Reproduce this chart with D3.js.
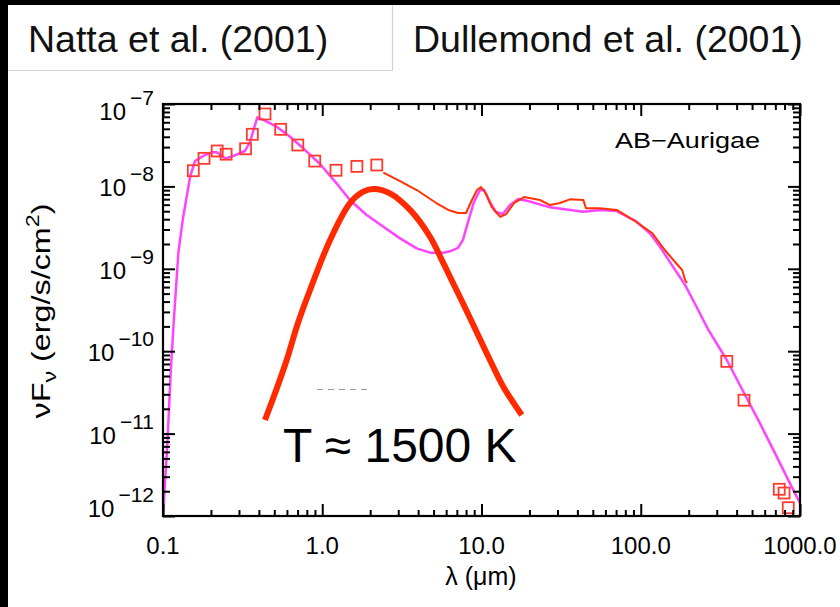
<!DOCTYPE html>
<html><head><meta charset="utf-8">
<script src="https://cdn.jsdelivr.net/npm/d3@7"></script>
<style>html,body{margin:0;padding:0;background:#000;} svg{display:block}</style>
</head><body>
<svg id="c" width="840" height="607"></svg>
<script>
// ---------- data ----------
const sources = ["Natta et al. (2001)", "Dullemond et al. (2001)"];
const objectName = "AB\u2212Aurigae";
const xTickValues = [0.1, 1, 10, 100, 1000];
const xTickLabels = ["0.1", "1.0", "10.0", "100.0", "1000.0"];
const yTickExponents = [-7, -8, -9, -10, -11, -12];
const xTitle = "\u03bb (\u03bcm)";
const bbLabel = "T \u2248 1500 K";

// photometry (open squares)
const photLambda = [0.155,0.181,0.219,0.249,0.330,0.364,0.437,0.548,0.702,0.897,1.22,1.65,2.20,347,445,741,794,844];
const photFlux   = [1.55e-8,2.19e-8,2.69e-8,2.46e-8,2.86e-8,4.29e-8,7.57e-8,4.93e-8,3.18e-8,2.03e-8,1.57e-8,1.75e-8,1.82e-8,7.53e-11,2.54e-11,2.11e-12,1.90e-12,1.26e-12];

// disk model (magenta)
const modelLambda = [0.100,0.106,0.112,0.117,0.125,0.134,0.148,0.159,0.179,0.202,0.217,0.245,0.270,0.327,0.352,0.391,0.426,0.518,0.627,0.760,0.968,1.23,1.49,1.90,2.42,3.08,3.92,4.75,5.76,6.34,7.12,7.65,8.23,8.97,9.79,10.4,11.1,12.3,13.6,15.1,17.0,19.6,26.9,43.6,55.5,70.6,94.3,114,132,157,190,226,266,347,452,561,714,865,1000];
const modelFlux   = [1.0e-12,6.32e-12,5.92e-11,2.39e-10,1.60e-9,4.29e-9,1.31e-8,2.03e-8,2.34e-8,2.59e-8,2.59e-8,2.19e-8,2.30e-8,2.69e-8,3.48e-8,6.90e-8,6.40e-8,5.31e-8,4.01e-8,2.90e-8,1.87e-8,1.09e-8,6.84e-9,4.50e-9,3.24e-9,2.34e-9,1.77e-9,1.57e-9,1.57e-9,1.63e-9,1.79e-9,2.24e-9,3.70e-9,6.47e-9,9.04e-9,9.04e-9,6.84e-9,4.89e-9,4.62e-9,5.94e-9,7.03e-9,6.65e-9,5.57e-9,4.93e-9,5.18e-9,5.02e-9,3.73e-9,2.70e-9,1.85e-9,1.11e-9,6.35e-10,3.34e-10,1.81e-10,7.82e-11,2.94e-11,1.33e-11,5.25e-12,2.49e-12,1.43e-12];

// observed spectrum (thin red)
const specLambda = [2.42,3.08,3.92,5.23,6.19,7.12,7.99,8.71,9.37,9.93,10.7,11.6,13.1,14.3,16.0,18.5,23.3,26.9,31.1,35.9,43.6,45.3,55.5,70.6,89.8,118,139,164,182,190,195];
const specFlux   = [1.47e-8,1.16e-8,9.04e-9,6.24e-9,5.18e-9,4.75e-9,4.75e-9,6.84e-9,9.04e-9,9.84e-9,8.09e-9,5.62e-9,4.26e-9,4.62e-9,6.28e-9,7.43e-9,6.84e-9,5.94e-9,6.28e-9,6.97e-9,6.84e-9,5.42e-9,5.42e-9,5.18e-9,3.91e-9,2.72e-9,1.77e-9,1.21e-9,9.66e-10,7.31e-10,6.73e-10];

// 1500 K blackbody (thick red)
const bbLambda = [0.437,0.505,0.598,0.704,0.838,1.12,1.49,1.81,2.11,2.66,3.56,4.75,5.76,6.34,8.47,11.3,13.7,17.9];
const bbFlux   = [1.46e-11,3.08e-11,7.82e-11,2.20e-10,5.53e-10,2.24e-9,6.24e-9,8.63e-9,9.29e-9,8.24e-9,5.18e-9,2.45e-9,1.17e-9,8.02e-10,2.53e-10,7.82e-11,3.71e-11,1.68e-11];

// ---------- drawing ----------
const svg = d3.select("#c");
const L = 163, R = 800, T = 104, B = 516;
const x = d3.scaleLog().domain([0.1, 1000]).range([L, R]);
const y = d3.scaleLog().domain([1e-12, 1e-7]).range([B, T]);
const FONT = "'Liberation Sans', Arial, Helvetica, sans-serif";

svg.append("rect").attr("width", 840).attr("height", 607).attr("fill", "#000");
svg.append("rect").attr("x", 8).attr("y", 5).attr("width", 832).attr("height", 602).attr("fill", "#fff");

// source tabs
svg.append("line").attr("x1", 392.5).attr("x2", 392.5).attr("y1", 5).attr("y2", 71).attr("stroke", "#d2d2d2").attr("stroke-width", 1.2);
svg.append("line").attr("x1", 8).attr("x2", 393).attr("y1", 70.5).attr("y2", 70.5).attr("stroke", "#d2d2d2").attr("stroke-width", 1.2);
svg.append("text").attr("x", 28).attr("y", 52).attr("font-family", FONT).attr("font-size", 37.5).attr("fill", "#111").text(sources[0]);
svg.append("text").attr("x", 413).attr("y", 52).attr("font-family", FONT).attr("font-size", 37.5).attr("fill", "#111").text(sources[1]);

// clip
svg.append("clipPath").attr("id", "pc").append("rect").attr("x", L).attr("y", T).attr("width", R - L).attr("height", B - T);
const plot = svg.append("g").attr("clip-path", "url(#pc)");

const line = d3.line().x(d => x(d[0])).y(d => y(d[1]));
const zip = (a, b) => a.map((v, i) => [v, b[i]]);

plot.append("path").datum(zip(modelLambda, modelFlux)).attr("d", line)
  .attr("fill", "none").attr("stroke", "#ff44ff").attr("stroke-width", 2.5).attr("stroke-linejoin", "round");
plot.append("path").datum(zip(specLambda, specFlux)).attr("d", line)
  .attr("fill", "none").attr("stroke", "#ff3300").attr("stroke-width", 2).attr("stroke-linejoin", "round");
plot.selectAll("rect.sq").data(zip(photLambda, photFlux)).enter().append("rect").attr("class", "sq")
  .attr("x", d => x(d[0]) - 5.5).attr("y", d => y(d[1]) - 5.5).attr("width", 11).attr("height", 11)
  .attr("fill", "none").attr("stroke", "#ff3b2f").attr("stroke-width", 1.8);
svg.append("path").datum(zip(bbLambda, bbFlux)).attr("d", line.curve(d3.curveCatmullRom))
  .attr("fill", "none").attr("stroke", "#ff2a00").attr("stroke-width", 6).attr("stroke-linecap", "butt");

// ticks
const majorX = xTickValues;
const minorX = [];
for (let i = 0; i < xTickValues.length - 1; i++) for (let k = 2; k <= 9; k++) minorX.push(xTickValues[i] * k);
const majorY = yTickExponents.map(e => Math.pow(10, e));
const minorY = [];
for (let e = -12; e < -7; e++) for (let k = 2; k <= 9; k++) minorY.push(k * Math.pow(10, e));

function ax(gen, scale, vals, size, tx, ty) {
  const g = svg.append("g").attr("transform", `translate(${tx},${ty})`)
    .call(gen(scale).tickValues(vals).tickSize(size).tickFormat(""));
  g.select(".domain").remove();
  g.selectAll("line").attr("stroke", "#000").attr("stroke-width", 2);
}
ax(d3.axisTop, x, minorX, 6, 0, B); ax(d3.axisTop, x, majorX, 12, 0, B);
ax(d3.axisBottom, x, minorX, 6, 0, T); ax(d3.axisBottom, x, majorX, 12, 0, T);
ax(d3.axisRight, y, minorY, 7, L, 0); ax(d3.axisRight, y, majorY, 12, L, 0);
ax(d3.axisLeft, y, minorY, 7, R, 0); ax(d3.axisLeft, y, majorY, 12, R, 0);

svg.append("rect").attr("x", L).attr("y", T).attr("width", R - L).attr("height", B - T)
  .attr("fill", "none").attr("stroke", "#000").attr("stroke-width", 2.2);

// x tick labels
svg.selectAll("text.xl").data(xTickValues).enter().append("text").attr("class", "xl")
  .attr("x", d => x(d)).attr("y", 554).attr("text-anchor", "middle")
  .attr("font-family", FONT).attr("font-size", 24).attr("fill", "#000")
  .text((d, i) => xTickLabels[i]);

// y tick labels
yTickExponents.forEach((e, i) => {
  let yy = y(Math.pow(10, e)) + 10;
  if (i === 0) yy += 6;
  if (i === yTickExponents.length - 1) yy -= 9;
  const t = svg.append("text").attr("x", 154).attr("y", yy).attr("text-anchor", "end")
    .attr("font-family", FONT).attr("font-size", 24).attr("fill", "#000");
  t.append("tspan").text("10");
  t.append("tspan").attr("dx", 4).attr("dy", -15).attr("font-size", 21).text("\u2212" + Math.abs(e));
});

// axis titles
svg.append("text").attr("x", 481).attr("y", 585).attr("text-anchor", "middle")
  .attr("font-family", FONT).attr("font-size", 25).attr("fill", "#000").text(xTitle);
const yt = svg.append("text").attr("transform", "translate(50,311) rotate(-90)").attr("text-anchor", "middle")
  .attr("font-family", FONT).attr("font-size", 25).attr("fill", "#000")
  .attr("textLength", 215).attr("lengthAdjust", "spacingAndGlyphs");
yt.append("tspan").text("\u03bdF");
yt.append("tspan").attr("dy", 6).attr("font-size", 18).text("\u03bd");
yt.append("tspan").attr("dy", -6).text(" (erg/s/cm");
yt.append("tspan").attr("dy", -11).attr("font-size", 18).text("2");
yt.append("tspan").attr("dy", 11).text(")");

// annotations
svg.append("text").attr("x", 615).attr("y", 148).attr("font-family", FONT).attr("font-size", 22)
  .attr("fill", "#000").attr("textLength", 145).attr("lengthAdjust", "spacingAndGlyphs").text(objectName);
svg.append("line").attr("x1", 317).attr("x2", 370).attr("y1", 389.5).attr("y2", 389.5)
  .attr("stroke", "#999").attr("stroke-width", 1).attr("stroke-dasharray", "6,5");
svg.append("text").attr("x", 283).attr("y", 462).attr("font-family", FONT).attr("font-size", 48)
  .attr("fill", "#000").text(bbLabel);
</script>
</body></html>
